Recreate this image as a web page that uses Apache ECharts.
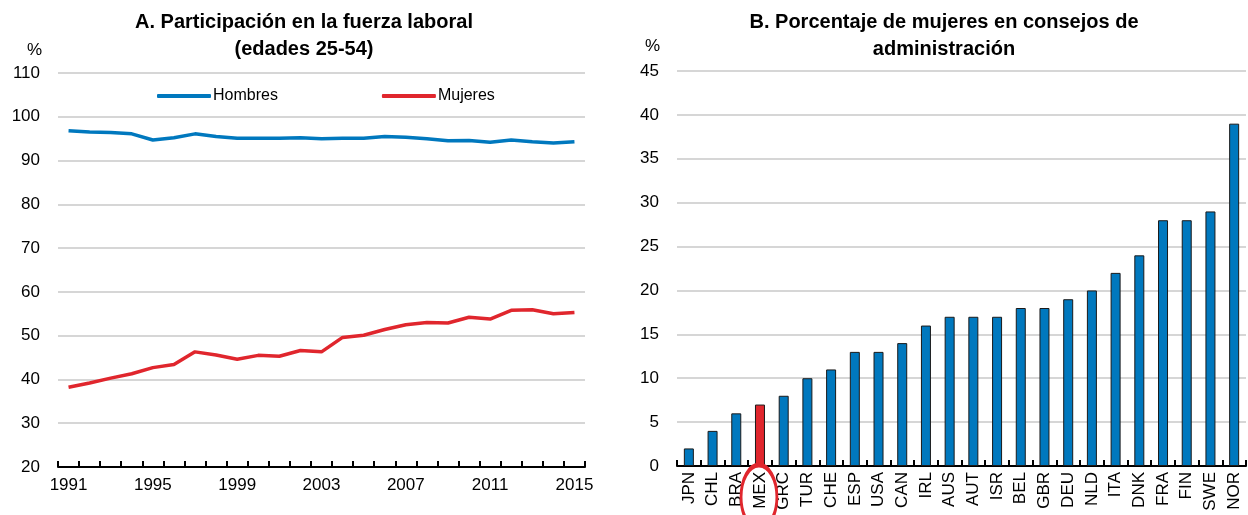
<!DOCTYPE html>
<html>
<head>
    <meta charset="UTF-8">
    <title>ECharts</title>
    <script src="https://cdn.jsdelivr.net/npm/echarts@6/dist/echarts.min.js"></script>
    <style>
        html, body { margin: 0; padding: 0; width: 100%; height: 100%; background: #fff; }
        #main { width: 1248px; height: 515px; }
    </style>
</head>
<body>
    <div id="main"></div>
    <script type="text/javascript">
        // Panel A: participación laboral (edades 25-54)
        var years = ['1991','1992','1993','1994','1995','1996','1997','1998','1999','2000','2001','2002','2003',
                     '2004','2005','2006','2007','2008','2009','2010','2011','2012','2013','2014','2015'];
        var hombres = [96.8, 96.5, 96.4, 96.1, 94.7, 95.2, 96.1, 95.5, 95.1, 95.1, 95.1, 95.2, 95.0,
                       95.1, 95.1, 95.5, 95.3, 95.0, 94.5, 94.6, 94.2, 94.7, 94.3, 94.0, 94.3];
        var mujeres = [38.2, 39.2, 40.3, 41.3, 42.7, 43.4, 46.3, 45.6, 44.6, 45.5, 45.3, 46.6, 46.3,
                       49.6, 50.1, 51.4, 52.5, 53.0, 52.9, 54.2, 53.8, 55.8, 55.9, 55.0, 55.3];

        // Panel B: % de mujeres en consejos de administración
        var paises = ['JPN','CHL','BRA','MEX','GRC','TUR','CHE','ESP','USA','CAN','IRL','AUS',
                      'AUT','ISR','BEL','GBR','DEU','NLD','ITA','DNK','FRA','FIN','SWE','NOR'];
        var consejos = [2, 4, 6, 7, 8, 10, 11, 13, 13, 14, 16, 17,
                        17, 17, 18, 18, 19, 20, 22, 24, 28, 28, 29, 39];
        var destacado = 'MEX';

        var azul = '#0078be', rojo = '#e0262d';
        var fuente = "'Liberation Sans Narrow', 'Arial Narrow', 'Liberation Sans', Arial, sans-serif";

        var myChart = echarts.init(document.getElementById('main'));

        var ejeY = function (idx, min, max, step) {
            return {
                type: 'value', gridIndex: idx, min: min, max: max, interval: step,
                axisLine: { show: false }, axisTick: { show: false },
                axisLabel: { color: '#000', fontFamily: fuente, fontSize: 17, margin: 18 },
                splitLine: { lineStyle: { color: '#c8c8c8', width: 1.5 } }
            };
        };

        var option = {
            animation: false,
            textStyle: { fontFamily: fuente },
            title: [
                { text: 'A. Participación en la fuerza laboral\n(edades 25-54)', left: 299, top: 4, textAlign: 'center',
                  textStyle: { fontFamily: fuente, fontWeight: 'bold', fontSize: 20, lineHeight: 27, color: '#000' } },
                { text: 'B. Porcentaje de mujeres en consejos de\nadministración', left: 939, top: 4, textAlign: 'center',
                  textStyle: { fontFamily: fuente, fontWeight: 'bold', fontSize: 20, lineHeight: 27, color: '#000' } },
                { text: '%', left: 22, top: 37, textStyle: { fontFamily: fuente, fontWeight: 'normal', fontSize: 17, color: '#000' } },
                { text: '%', left: 640, top: 33, textStyle: { fontFamily: fuente, fontWeight: 'normal', fontSize: 17, color: '#000' } }
            ],
            legend: {
                data: ['Hombres', 'Mujeres'],
                left: 152, top: 83, icon: 'roundRect',
                itemWidth: 54, itemHeight: 4, itemGap: 104,
                textStyle: { fontFamily: fuente, fontSize: 16, color: '#000', padding: [0, 0, 0, -3] }
            },
            grid: [
                { left: 58, right: 663, top: 73, bottom: 48 },
                { left: 677, right: 2, top: 71, bottom: 49 }
            ],
            xAxis: [
                {
                    type: 'category', gridIndex: 0, data: years, boundaryGap: true,
                    axisLine: { lineStyle: { color: '#000', width: 2 } },
                    axisTick: { show: true, inside: true, length: 6, interval: 0, lineStyle: { color: '#000', width: 2 } },
                    axisLabel: { interval: 3, color: '#000', fontFamily: fuente, fontSize: 17, margin: 10 }
                },
                {
                    type: 'category', gridIndex: 1, data: paises, boundaryGap: true,
                    axisLine: { lineStyle: { color: '#000', width: 2 } },
                    axisTick: { show: true, inside: true, length: 6, interval: 0, lineStyle: { color: '#000', width: 2 } },
                    axisLabel: { interval: 0, rotate: 90, color: '#000', fontFamily: fuente, fontSize: 17, margin: 6 }
                }
            ],
            yAxis: [ejeY(0, 20, 110, 10), ejeY(1, 0, 45, 5)],
            series: [
                { name: 'Hombres', type: 'line', xAxisIndex: 0, yAxisIndex: 0, data: hombres,
                  symbol: 'none', lineStyle: { color: azul, width: 3.5 }, itemStyle: { color: azul } },
                { name: 'Mujeres', type: 'line', xAxisIndex: 0, yAxisIndex: 0, data: mujeres,
                  symbol: 'none', lineStyle: { color: rojo, width: 3.5 }, itemStyle: { color: rojo } },
                { name: 'Consejos', type: 'bar', xAxisIndex: 1, yAxisIndex: 1, barWidth: 10,
                  data: consejos.map(function (v, i) {
                      return { value: v, itemStyle: { color: paises[i] === destacado ? rojo : azul } };
                  }),
                  itemStyle: { borderColor: '#1a1a1a', borderWidth: 1 } }
            ]
        };

        myChart.setOption(option);

        // círculo rojo alrededor de la etiqueta destacada
        var p = myChart.convertToPixel({ xAxisIndex: 1, yAxisIndex: 1 }, [destacado, 0]);
        myChart.setOption({
            graphic: [{
                type: 'circle', x: p[0] - 1, y: p[1] + 31, scaleX: 0.56, scaleY: 1,
                shape: { cx: 0, cy: 0, r: 32 },
                style: { fill: 'none', stroke: rojo, lineWidth: 5 },
                z: 10
            }]
        });
    </script>
</body>
</html>
